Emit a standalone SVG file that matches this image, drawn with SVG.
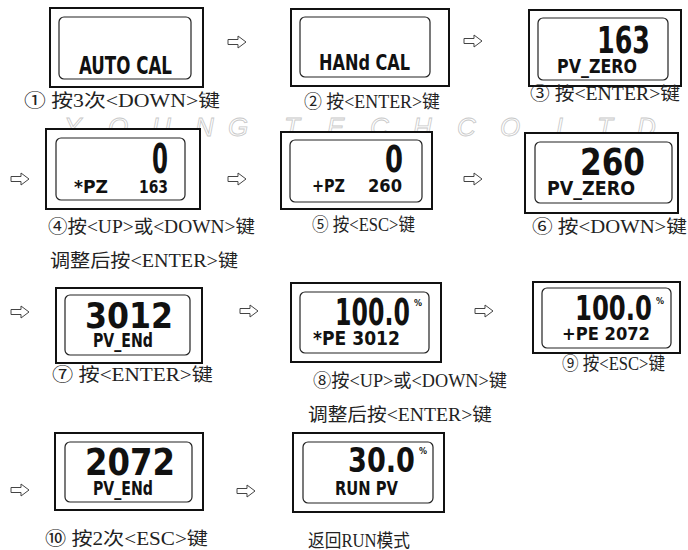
<svg xmlns="http://www.w3.org/2000/svg" width="688" height="550" viewBox="0 0 688 550">
<style>
.outer{fill:#fff;stroke:#111;stroke-width:2}
.inner{fill:#fff;stroke:#222;stroke-width:1.2}
.lcd{font-family:"DejaVu Sans Condensed","DejaVu Sans",sans-serif;font-weight:bold;fill:#111}
.lbl{font-family:"Liberation Serif","Noto Sans CJK SC",serif;font-size:18px;fill:#222}
.pct{font-family:"DejaVu Sans",sans-serif;font-weight:bold;font-size:8px;fill:#111}
.wm{font-family:"Liberation Sans",sans-serif;font-style:italic;font-size:26px;fill:none;stroke:#c8c8c8;stroke-width:0.8}
.arr{fill:#fff;stroke:#444;stroke-width:1}
</style>
<defs>
<path id="ar" d="M0,-2.5 H10 V-6 L18,0 L10,6 V2.5 H0 Z"/>
</defs>
<rect width="688" height="550" fill="#fff"/>
<g id="watermark">
<text class="wm" y="136" x="64 108 152 195 228 284 327 370 413 457 500 533 541 556 597 637">YOUNGTECHCO.,LTD</text>
</g>
<g id="connectors">
<use href="#ar" class="arr" x="228" y="42"/>
<use href="#ar" class="arr" x="464" y="41"/>
<use href="#ar" class="arr" x="11" y="179"/>
<use href="#ar" class="arr" x="228" y="179"/>
<use href="#ar" class="arr" x="464" y="179"/>
<use href="#ar" class="arr" x="11" y="312"/>
<use href="#ar" class="arr" x="240" y="311"/>
<use href="#ar" class="arr" x="475" y="311"/>
<use href="#ar" class="arr" x="11" y="490"/>
<use href="#ar" class="arr" x="237" y="491"/>
</g>
<g id="n1">
<rect class="outer" x="50" y="8" width="153" height="79"/>
<rect class="inner" x="59" y="17" width="132" height="62" rx="5"/>
<text class="lcd" x="79" y="74" font-size="25" textLength="93" lengthAdjust="spacingAndGlyphs">AUTO CAL</text>
<text class="lbl" x="24" y="107" textLength="196" lengthAdjust="spacingAndGlyphs">① 按3次&lt;DOWN&gt;键</text>
</g>
<g id="n2">
<rect class="outer" x="291" y="9" width="158" height="77"/>
<rect class="inner" x="300" y="17" width="130" height="60" rx="5"/>
<text class="lcd" x="319" y="70" font-size="21" textLength="91" lengthAdjust="spacingAndGlyphs">HANd CAL</text>
<text class="lbl" x="304" y="108" textLength="136" lengthAdjust="spacingAndGlyphs">② 按&lt;ENTER&gt;键</text>
</g>
<g id="n3">
<rect class="outer" x="529" y="10" width="152" height="76"/>
<rect class="inner" x="538" y="18" width="130" height="62" rx="5"/>
<text class="lcd" x="597" y="53" font-size="38" textLength="53" lengthAdjust="spacingAndGlyphs">163</text>
<text class="lcd" x="557" y="73" font-size="20" textLength="80" lengthAdjust="spacingAndGlyphs">PV_ZERO</text>
<text class="lbl" x="530" y="100" textLength="150" lengthAdjust="spacingAndGlyphs">③ 按&lt;ENTER&gt;键</text>
</g>
<g id="n4">
<rect class="outer" x="46" y="129" width="154" height="80"/>
<rect class="inner" x="56" y="138" width="129" height="62" rx="5"/>
<text class="lcd" x="152" y="173" font-size="40" textLength="16" lengthAdjust="spacingAndGlyphs">0</text>
<text class="lcd" x="74" y="193" font-size="18" textLength="34" lengthAdjust="spacingAndGlyphs">*PZ</text>
<text class="lcd" x="139" y="193" font-size="18" textLength="29" lengthAdjust="spacingAndGlyphs">163</text>
<text class="lbl" x="48" y="233" textLength="207" lengthAdjust="spacingAndGlyphs">④按&lt;UP&gt;或&lt;DOWN&gt;键</text>
<text class="lbl" x="50" y="267" textLength="188" lengthAdjust="spacingAndGlyphs">调整后按&lt;ENTER&gt;键</text>
</g>
<g id="n5">
<rect class="outer" x="281" y="132" width="151" height="77"/>
<rect class="inner" x="290" y="140" width="132" height="62" rx="5"/>
<text class="lcd" x="385" y="172" font-size="38" textLength="18" lengthAdjust="spacingAndGlyphs">0</text>
<text class="lcd" x="312" y="192" font-size="18" textLength="33" lengthAdjust="spacingAndGlyphs">+PZ</text>
<text class="lcd" x="368" y="192" font-size="18" textLength="34" lengthAdjust="spacingAndGlyphs">260</text>
<text class="lbl" x="312" y="231" textLength="103" lengthAdjust="spacingAndGlyphs">⑤ 按&lt;ESC&gt;键</text>
</g>
<g id="n6">
<rect class="outer" x="525" y="133" width="153" height="80"/>
<rect class="inner" x="535" y="142" width="137" height="61" rx="5"/>
<text class="lcd" x="580" y="175" font-size="37" textLength="65" lengthAdjust="spacingAndGlyphs">260</text>
<text class="lcd" x="547" y="195" font-size="20" textLength="88" lengthAdjust="spacingAndGlyphs">PV_ZERO</text>
<text class="lbl" x="532" y="233" textLength="155" lengthAdjust="spacingAndGlyphs">⑥ 按&lt;DOWN&gt;键</text>
</g>
<g id="n7">
<rect class="outer" x="56" y="288" width="146" height="75"/>
<rect class="inner" x="65" y="295" width="125" height="60" rx="5"/>
<text class="lcd" x="85" y="328" font-size="36" textLength="88" lengthAdjust="spacingAndGlyphs">3012</text>
<text class="lcd" x="93" y="347" font-size="19" textLength="60" lengthAdjust="spacingAndGlyphs">PV_ENd</text>
<text class="lbl" x="52" y="381" textLength="161" lengthAdjust="spacingAndGlyphs">⑦ 按&lt;ENTER&gt;键</text>
</g>
<g id="n8">
<rect class="outer" x="291" y="283" width="150" height="79"/>
<rect class="inner" x="300" y="292" width="129" height="61" rx="5"/>
<text class="lcd" transform="translate(335 325) scale(0.72 1)" font-size="37" textLength="104" lengthAdjust="spacingAndGlyphs">100.0</text>
<text class="pct" x="414" y="306">%</text>
<text class="lcd" x="313" y="345" font-size="20" textLength="87" lengthAdjust="spacingAndGlyphs">*PE 3012</text>
<text class="lbl" x="313" y="387" textLength="194" lengthAdjust="spacingAndGlyphs">⑧按&lt;UP&gt;或&lt;DOWN&gt;键</text>
<text class="lbl" x="308" y="421" textLength="184" lengthAdjust="spacingAndGlyphs">调整后按&lt;ENTER&gt;键</text>
</g>
<g id="n9">
<rect class="outer" x="533" y="282" width="147" height="71"/>
<rect class="inner" x="542" y="288" width="129" height="60" rx="5"/>
<text class="lcd" transform="translate(575 320) scale(0.806 1)" font-size="34" textLength="95.5" lengthAdjust="spacingAndGlyphs">100.0</text>
<text class="pct" x="656" y="304">%</text>
<text class="lcd" x="562" y="340" font-size="18" textLength="88" lengthAdjust="spacingAndGlyphs">+PE 2072</text>
<text class="lbl" x="562" y="370" textLength="103" lengthAdjust="spacingAndGlyphs">⑨ 按&lt;ESC&gt;键</text>
</g>
<g id="n10">
<rect class="outer" x="55" y="433" width="148" height="77"/>
<rect class="inner" x="65" y="442" width="127" height="60" rx="5"/>
<text class="lcd" x="85" y="475" font-size="38" textLength="90" lengthAdjust="spacingAndGlyphs">2072</text>
<text class="lcd" x="93" y="495" font-size="20" textLength="60" lengthAdjust="spacingAndGlyphs">PV_ENd</text>
<text class="lbl" x="45" y="545" textLength="163" lengthAdjust="spacingAndGlyphs">⑩ 按2次&lt;ESC&gt;键</text>
</g>
<g id="n11">
<rect class="outer" x="293" y="433" width="151" height="79"/>
<rect class="inner" x="303" y="442" width="130" height="61" rx="5"/>
<text class="lcd" transform="translate(348 472) scale(0.9 1)" font-size="34" textLength="74.4" lengthAdjust="spacingAndGlyphs">30.0</text>
<text class="pct" x="419" y="454">%</text>
<text class="lcd" x="335" y="495" font-size="20" textLength="63" lengthAdjust="spacingAndGlyphs">RUN PV</text>
<text class="lbl" x="308" y="547" textLength="102" lengthAdjust="spacingAndGlyphs">返回RUN模式</text>
</g>
</svg>
